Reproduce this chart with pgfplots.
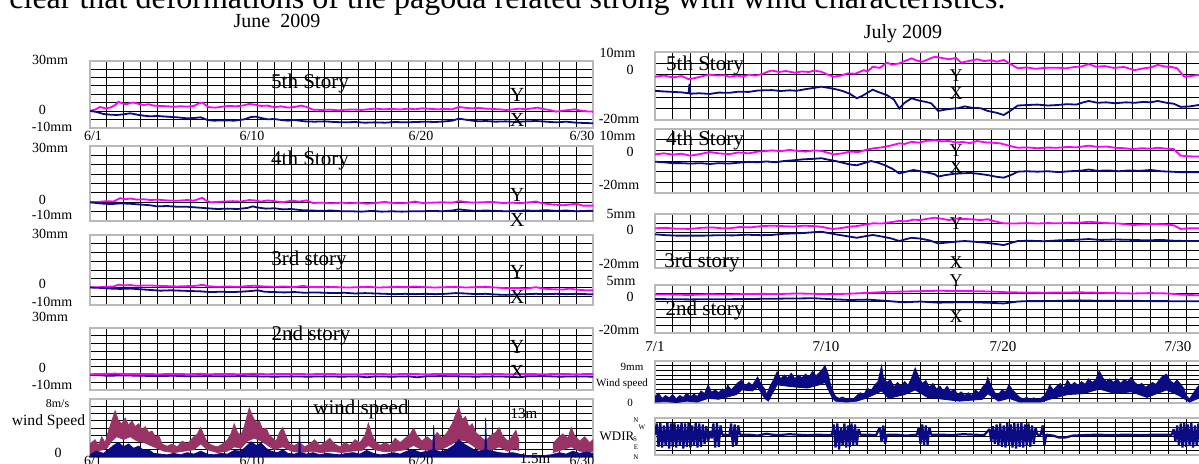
\documentclass[border=0pt]{standalone}
\usepackage{pgfplots}
\pgfplotsset{compat=1.18}
\usepgfplotslibrary{fillbetween}
\usepackage{fontspec}
\setmainfont{Liberation Serif}
\definecolor{mag}{RGB}{255,0,255}
\definecolor{nav}{RGB}{10,10,130}
\definecolor{mar}{RGB}{153,51,102}
\newcommand{\fs}[1]{\fontsize{#1}{#1}\selectfont}
\pgfplotsset{
 panel/.style={scale only axis, anchor=south west, axis line style={gray!55, line width=0.9pt},
   grid=major, grid style={black, line width=0.45pt}, major tick length=0pt,
   xticklabels={}, yticklabels={}, xmin=0, xtick={0,...,31}, clip=true},
 Lp/.style={panel, width=251.5pt, xmax=30, ymin=-10, ymax=30, ytick={-10,-5,...,30}},
 Rp/.style={panel, width=274.35pt, xmax=31},
 Ra/.style={Rp, ymin=-20, ymax=10, ytick={-20,-15,...,10}},
 Rb/.style={Rp, ymin=-20, ymax=5, ytick={-20,-15.8333,-11.6667,-7.5,-3.3333,0.8333,5}},
 ly/.style={mag, line width=0.9pt},
 lx/.style={nav, line width=0.9pt},
}
\begin{document}
\begin{tikzpicture}
% ---------------- June: 5th story
\begin{axis}[Lp, at={(45pt,-63.85pt)}, height=33.5pt]
\addplot[ly] coordinates {(0,0) (0.3,0.8) (0.6,2.4) (0.9,1.6) (1.2,2.0) (1.5,3.5) (1.7,5.5) (1.9,4.6) (2.2,4.0) (2.4,4.8) (2.6,5.0) (2.9,4.2) (3.2,3.6) (3.5,4.0) (3.8,3.2) (4.2,3.0) (4.6,2.8) (5.0,2.5) (5.4,2.8) (5.8,2.6) (6.2,3.0) (6.5,4.6) (6.7,5.0) (6.9,3.5) (7.1,2.2) (7.5,2.0) (7.9,2.6) (8.3,3.0) (8.7,2.8) (9.1,3.2) (9.5,4.2) (9.8,3.8) (10.2,3.0) (10.6,3.2) (11.0,2.2) (11.4,2.8) (11.8,2.0) (12.2,2.4) (12.6,3.2) (12.9,2.4) (13.3,0.8) (13.8,0.6) (14.3,0.8) (14.8,0.4) (15.2,0.7) (15.7,0.9) (16.2,0.6) (16.6,1.0) (17.0,1.4) (17.5,1.0) (18.0,1.2) (18.5,0.9) (19.0,1.4) (19.4,1.0) (19.8,1.6) (20.2,1.3) (20.7,1.0) (21.2,1.2) (21.6,1.0) (22.0,2.4) (22.3,2.0) (22.7,1.6) (23.2,1.8) (23.6,1.4) (24.0,1.2) (24.4,1.0) (24.8,0.6) (25.2,0.9) (25.6,1.4) (26.0,1.0) (26.4,1.6) (26.7,2.0) (27.0,1.2) (27.4,0.6) (27.8,-0.4) (28.2,0.2) (28.6,0.6) (28.9,1.0) (29.3,0.2) (29.7,-0.3) (30,-0.4)};
\addplot[lx] coordinates {(0,0) (0.4,-0.6) (0.8,-1.8) (1.2,-2.2) (1.6,-2.4) (2.0,-2.0) (2.4,-1.4) (2.8,-2.2) (3.2,-2.8) (3.6,-3.2) (4.0,-3.0) (4.6,-3.4) (5.2,-3.8) (5.8,-4.4) (6.2,-4.2) (6.6,-3.8) (7.0,-5.4) (7.4,-5.8) (8.0,-5.6) (8.6,-5.8) (9.2,-5.0) (9.6,-3.6) (9.9,-3.4) (10.2,-4.2) (10.6,-5.0) (11.0,-4.8) (11.4,-5.4) (11.8,-5.8) (12.2,-5.4) (12.8,-6.2) (13.4,-6.4) (14.0,-6.2) (14.6,-6.6) (15.2,-6.8) (15.8,-6.6) (16.4,-7.0) (17.0,-6.8) (17.6,-7.0) (18.2,-6.6) (18.8,-6.8) (19.4,-6.6) (20.0,-6.4) (20.6,-6.6) (21.2,-6.2) (21.6,-5.8) (22.0,-4.6) (22.4,-5.2) (22.8,-5.8) (23.2,-6.2) (23.6,-6.0) (24.2,-6.4) (24.8,-6.2) (25.4,-6.6) (26.0,-6.2) (26.6,-6.0) (27.2,-6.4) (27.8,-6.8) (28.4,-6.4) (29.0,-7.0) (29.6,-7.2) (30,-7.4)};
\end{axis}
% ---------------- June: 4th story
\begin{axis}[Lp, at={(45pt,-110.5pt)}, height=37.5pt]
\addplot[ly] coordinates {(0,0) (0.5,0.2) (1.0,0.6) (1.4,0.4) (1.8,2.2) (2.1,1.6) (2.4,2.0) (2.8,1.4) (3.2,1.6) (3.6,1.2) (4.0,1.4) (4.6,1.0) (5.2,0.8) (5.8,1.2) (6.2,0.9) (6.5,1.8) (6.7,2.4) (6.9,1.0) (7.2,0.0) (7.6,0.2) (8.0,0.4) (8.5,0.6) (9.0,0.4) (9.5,1.2) (9.8,1.0) (10.2,0.4) (10.6,1.0) (11.0,0.6) (11.5,0.0) (12.0,0.8) (12.5,0.4) (12.9,1.0) (13.3,-0.4) (13.8,-0.2) (14.4,-0.6) (15.0,-0.2) (15.5,-0.6) (16.0,-0.2) (16.5,-0.8) (17.0,-0.4) (17.6,0.2) (18.0,-0.4) (18.6,-0.6) (19.0,-0.2) (19.4,0.4) (19.8,-0.4) (20.4,-0.2) (21.0,0.0) (21.6,-0.2) (22.0,0.6) (22.4,0.2) (22.8,-0.2) (23.4,0.0) (24.0,0.2) (24.6,-0.4) (25.2,-0.2) (25.6,-0.6) (26.2,0.0) (26.6,0.4) (27.0,-0.6) (27.6,-1.2) (28.2,-1.6) (28.6,-1.2) (29.0,-0.8) (29.4,-1.8) (30,-1.8)};
\addplot[lx] coordinates {(0,0) (0.6,-0.6) (1.2,-1.0) (1.8,-0.6) (2.4,-0.8) (3.0,-1.2) (3.6,-1.6) (4.0,-2.2) (4.6,-2.0) (5.2,-2.4) (5.8,-2.4) (6.4,-2.8) (7.0,-3.2) (7.6,-3.6) (8.2,-3.4) (8.8,-3.6) (9.4,-3.0) (9.7,-2.2) (10.0,-2.8) (10.5,-3.4) (11.0,-3.2) (11.5,-3.8) (12.0,-3.6) (12.6,-4.2) (13.2,-4.4) (13.8,-4.6) (14.4,-4.4) (15.0,-4.8) (15.6,-4.8) (16.2,-5.0) (16.8,-4.6) (17.4,-5.0) (18.0,-4.8) (18.6,-5.0) (19.2,-4.8) (19.8,-4.8) (20.4,-4.6) (21.0,-4.8) (21.6,-4.4) (22.0,-3.8) (22.4,-4.2) (23.0,-4.6) (23.6,-4.4) (24.2,-4.6) (24.8,-4.8) (25.4,-4.6) (26.0,-4.4) (26.6,-4.6) (27.2,-4.2) (27.8,-4.6) (28.4,-4.4) (29.0,-4.8) (29.6,-4.6) (30,-4.6)};
\end{axis}
% ---------------- June: 3rd story
\begin{axis}[Lp, at={(45pt,-152.5pt)}, height=35pt]
\addplot[ly] coordinates {(0,0.2) (0.6,0.2) (1.0,0.4) (1.4,0.6) (1.7,1.6) (2.0,1.2) (2.4,1.4) (2.8,1.0) (3.4,1.2) (4.0,1.0) (4.6,0.8) (5.2,0.6) (5.8,0.8) (6.4,1.0) (6.7,1.6) (7.0,0.8) (7.6,0.4) (8.2,0.6) (8.8,0.4) (9.4,0.8) (9.8,1.0) (10.4,0.6) (11.0,0.4) (11.6,0.6) (12.2,0.2) (12.7,1.0) (13.0,0.4) (13.6,0.2) (14.2,0.4) (14.8,0.2) (15.4,0.0) (16.0,0.2) (16.6,0.4) (17.2,0.0) (17.8,0.2) (18.4,0.4) (18.8,0.2) (19.4,0.6) (20.0,0.2) (20.6,0.0) (21.2,0.2) (21.8,0.4) (22.4,0.0) (23.0,0.2) (23.6,0.4) (24.2,0.0) (24.8,-0.4) (25.4,-0.2) (26.0,-0.6) (26.6,0.2) (27.0,-0.6) (27.6,-1.0) (28.2,-1.2) (28.6,-0.6) (29.0,-1.2) (29.6,-1.6) (30,-1.6)};
\addplot[lx] coordinates {(0,0) (0.6,-0.2) (1.2,-0.6) (1.8,-0.8) (2.4,-0.6) (3.0,-1.0) (3.6,-1.4) (4.2,-1.8) (4.8,-1.6) (5.4,-1.8) (6.0,-2.0) (6.6,-2.2) (7.2,-2.6) (7.8,-2.4) (8.4,-2.6) (9.0,-2.4) (9.6,-2.0) (10.0,-1.6) (10.4,-2.4) (11.0,-2.6) (11.6,-2.8) (12.2,-2.6) (12.8,-3.0) (13.4,-2.8) (14.0,-3.0) (14.6,-3.2) (15.2,-3.0) (15.8,-3.4) (16.4,-3.2) (17.0,-3.4) (17.6,-3.6) (18.2,-3.8) (18.8,-3.6) (19.4,-3.8) (20.0,-3.6) (20.6,-3.8) (21.2,-3.6) (21.8,-3.2) (22.4,-3.4) (23.0,-3.8) (23.6,-3.6) (24.2,-4.0) (24.8,-4.2) (25.4,-4.0) (26.0,-3.8) (26.6,-3.6) (27.2,-3.8) (27.8,-3.6) (28.4,-3.8) (29.0,-3.6) (29.6,-3.8) (30,-3.8)};
\end{axis}
% ---------------- June: 2nd story
\begin{axis}[Lp, at={(45pt,-195pt)}, height=31pt]
\addplot[lx] coordinates {(0,-0.2) (0.5,-0.4) (1,-0.8) (2,-0.6) (3,-0.8) (4,-1.0) (5,-0.8) (6,-1.2) (7,-1.0) (8,-1.2) (9,-1.0) (10,-1.2) (11,-1.4) (12,-1.2) (13,-1.4) (14,-1.2) (15,-1.4) (16,-1.2) (16.5,-1.8) (17,-1.2) (18,-1.4) (19,-1.2) (19.5,-1.8) (20,-1.2) (21,-1.0) (22,-1.2) (23,-1.4) (24,-1.2) (25,-1.4) (25.6,-1.8) (26,-1.2) (27,-1.0) (28,-1.4) (29,-1.2) (30,-1.4)};
\addplot[ly] coordinates {(0,0.2) (1,0.4) (1.5,0.6) (2,0.3) (3,0.4) (4,0.2) (5,0.3) (6,0.2) (6.5,0.5) (7,0.2) (8,0.3) (9,0.2) (9.7,0.5) (10.5,0.2) (12,0.4) (13,0.2) (14,0.3) (15,0.2) (16,0.2) (17,0.3) (18,0.2) (19,0.3) (20,0.2) (21,0.3) (22,0.4) (23,0.2) (24,0.3) (25,0.2) (26,0.3) (27,0.2) (28,0.3) (29,0.2) (30,0.3)};
\end{axis}
% ---------------- June: wind speed
\begin{axis}[Lp, at={(45pt,-228.5pt)}, height=29pt, ymin=0, ymax=8, ytick={0,...,8}]
\addplot[name path=mu1, draw=mar, line width=0.3pt] coordinates {(0,1.8) (0.3,2.4) (0.5,1.6) (0.7,2.8) (0.9,2.0) (1.1,3.6) (1.3,5.0) (1.5,6.4) (1.7,5.0) (1.9,4.6) (2.1,5.4) (2.3,4.4) (2.5,5.0) (2.7,4.2) (2.9,4.6) (3.1,3.8) (3.3,4.2) (3.5,3.4) (3.7,3.6) (3.9,2.8) (4.1,3.0) (4.3,1.8) (4.6,1.5) (4.9,1.8) (5.2,1.4) (5.5,2.2) (5.8,1.8) (6.1,2.6) (6.4,3.2) (6.6,4.1) (6.8,3.0) (7.0,2.0) (7.3,1.6) (7.6,1.4) (7.9,1.8) (8.2,2.4) (8.4,3.2) (8.6,4.6) (8.8,3.4) (9.0,3.0) (9.2,4.2) (9.4,6.0) (9.5,6.8) (9.7,5.6) (9.9,4.8) (10.1,5.0) (10.3,3.8) (10.5,4.0) (10.7,3.0) (10.9,2.6) (11.1,2.2) (11.3,3.4) (11.5,4.1) (11.7,2.8) (11.9,1.8) (12.2,1.6) (12.5,2.0) (12.8,1.4) (13.1,1.8) (13.4,2.4) (13.7,1.6) (14.0,2.0) (14.3,2.6) (14.6,1.8) (14.9,1.4) (15.2,2.0) (15.5,1.6) (15.8,2.4) (16.1,2.0) (16.4,3.0) (16.6,4.7) (16.8,3.2) (17.0,2.2) (17.3,1.6) (17.6,2.0) (17.9,1.6) (18.2,2.6) (18.5,2.0) (18.8,2.6) (19.1,3.2) (19.3,4.0) (19.5,3.0) (19.8,2.2) (20.1,2.8) (20.4,2.2) (20.7,3.4) (21.0,2.6) (21.3,3.4) (21.6,4.6) (21.8,5.8) (22.0,6.9) (22.2,5.2) (22.4,5.6) (22.6,4.2) (22.8,4.6) (23.0,3.4) (23.3,2.8) (23.6,2.2) (23.9,3.0) (24.2,3.4) (24.4,4.1) (24.6,3.0) (24.9,2.2) (25.1,2.6) (25.4,3.7) (25.6,2.2)};
\addplot[name path=ml1, draw=mar, line width=0.3pt] coordinates {(0,0.6) (0.5,0.8) (1.0,1.2) (1.3,2.2) (1.6,2.8) (2.0,2.4) (2.4,2.8) (2.8,2.2) (3.2,2.0) (3.6,1.6) (4.0,1.2) (4.4,0.8) (5.0,0.6) (5.6,0.8) (6.2,1.0) (6.6,1.8) (7.0,1.0) (7.6,0.6) (8.2,0.8) (8.6,1.4) (9.0,1.2) (9.4,2.2) (9.8,2.6) (10.2,2.2) (10.6,1.6) (11.0,1.0) (11.5,1.4) (12.0,0.8) (12.6,0.6) (13.2,0.8) (13.8,0.6) (14.4,0.8) (15.0,0.6) (15.6,0.8) (16.2,0.9) (16.6,1.6) (17.0,1.0) (17.6,0.7) (18.2,0.8) (18.8,1.0) (19.3,1.6) (19.8,1.0) (20.4,0.9) (21.0,1.1) (21.6,1.8) (22.0,2.4) (22.4,2.2) (22.8,1.6) (23.2,1.0) (23.8,0.8) (24.4,1.4) (24.9,0.8) (25.4,1.2) (25.6,0.8)};
\addplot[mar] fill between[of=mu1 and ml1];
\addplot[name path=mu2, draw=mar, line width=0.3pt] coordinates {(27.6,1.8) (27.9,2.6) (28.2,3.2) (28.5,2.6) (28.7,4.1) (28.9,3.0) (29.2,2.2) (29.5,2.8) (29.8,2.0) (30,2.4)};
\addplot[name path=ml2, draw=mar, line width=0.3pt] coordinates {(27.6,0.6) (28.2,1.0) (28.7,1.4) (29.2,0.8) (29.8,0.7) (30,0.8)};
\addplot[mar] fill between[of=mu2 and ml2];
\addplot[fill=nav, draw=nav, line width=0.4pt] coordinates {(0,0.4) (0.4,0.8) (0.8,0.5) (1.1,1.0) (1.4,1.6) (1.7,2.0) (2.0,1.4) (2.3,1.8) (2.6,1.2) (2.9,1.5) (3.2,0.9) (3.5,1.0) (3.8,0.5) (4.2,0.4) (4.6,0.3) (5.0,0.5) (5.4,0.3) (5.8,0.6) (6.2,0.4) (6.6,0.8) (7.0,0.4) (7.4,0.3) (7.8,0.5) (8.2,0.4) (8.6,0.9) (9.0,0.8) (9.3,1.4) (9.6,2.1) (9.9,1.6) (10.2,1.9) (10.5,1.2) (10.8,0.8) (11.2,0.6) (11.5,1.0) (11.8,0.5) (12.2,0.4) (12.45,0.6) (12.5,3.9) (12.55,0.6) (12.9,0.4) (13.3,0.6) (13.7,0.3) (14.1,0.5) (14.5,0.4) (14.9,0.3) (15.3,0.5) (15.7,0.6) (16.1,0.4) (16.5,0.9) (16.9,0.5) (17.3,0.3) (17.7,0.4) (18.1,0.6) (18.5,0.4) (18.9,0.8) (19.3,1.0) (19.7,0.6) (20.1,0.8) (20.45,1.0) (20.5,4.4) (20.55,1.0) (20.9,0.7) (21.3,1.0) (21.7,1.6) (22.0,2.4) (22.3,1.8) (22.6,1.4) (22.9,1.0) (23.2,0.8) (23.55,1.0) (23.6,5.4) (23.65,1.0) (24.0,0.8) (24.4,0.6) (24.8,0.5) (25.2,0.6) (25.6,0.4) (26.0,0.2) (26.5,0.2) (27.0,0.2) (27.5,0.3) (28.0,0.6) (28.4,0.4) (28.8,0.8) (29.2,0.5) (29.6,0.7) (30,0.5)} \closedcycle;
\end{axis}
% ================= July: 5th story
\begin{axis}[Ra, at={(327.5pt,-60pt)}, height=34pt]
\addplot[ly] coordinates {(0,-0.9) (0.5,-0.4) (1.0,-1.2) (1.5,-0.6) (1.9,-2.0) (2.3,-1.4) (2.7,-0.6) (3.1,0.0) (3.5,-0.4) (3.9,-0.2) (4.2,-0.9) (4.6,-0.4) (5.0,-0.8) (5.3,0.0) (5.7,-0.4) (6.1,0.4) (6.4,1.4) (6.6,1.8) (7.0,1.2) (7.4,1.6) (7.9,0.9) (8.3,1.4) (8.7,1.2) (9.0,1.8) (9.4,1.3) (9.7,0.2) (10.1,-0.9) (10.5,-0.4) (10.9,0.6) (11.3,0.4) (11.8,2.0) (12.0,1.4) (12.3,3.5) (12.7,3.0) (13.1,5.3) (13.4,4.4) (13.8,5.0) (14.1,6.0) (14.5,7.2) (14.8,6.2) (15.1,5.7) (15.5,7.0) (15.8,7.9) (16.2,7.4) (16.6,6.8) (17.0,7.4) (17.3,5.3) (17.7,6.0) (18.2,6.8) (18.6,6.0) (19.0,6.4) (19.3,5.7) (19.7,6.5) (20.1,4.6) (20.5,2.8) (21.0,3.2) (21.5,2.6) (22.0,3.0) (22.7,3.1) (23.2,2.8) (23.7,3.4) (24.1,3.6) (24.5,4.7) (24.9,3.5) (25.4,3.8) (25.9,3.0) (26.5,3.4) (27.1,2.0) (27.6,2.8) (28.0,3.2) (28.4,4.3) (28.8,3.6) (29.2,3.4) (29.5,2.8) (29.9,-0.9) (30.3,-0.6) (30.7,-0.1) (31,-0.2)};
\addplot[lx] coordinates {(0,-7.1) (0.5,-7.4) (1.0,-7.6) (1.5,-7.8) (1.9,-8.2) (1.95,-4.0) (2.0,-8.4) (2.5,-8.2) (3.1,-8.5) (3.6,-7.9) (4.2,-8.0) (4.7,-7.5) (5.3,-7.6) (5.8,-7.0) (6.2,-6.9) (6.6,-6.8) (7.1,-7.2) (7.6,-6.9) (8.0,-7.1) (8.5,-6.4) (9.0,-5.8) (9.4,-5.3) (9.8,-5.8) (10.2,-6.4) (10.6,-7.2) (11.0,-8.4) (11.4,-10.4) (11.7,-9.4) (12.0,-8.0) (12.3,-6.6) (12.6,-7.6) (13.1,-9.0) (13.5,-11.0) (13.8,-14.9) (14.1,-12.4) (14.5,-10.4) (14.9,-11.4) (15.3,-12.0) (15.6,-12.6) (16.0,-16.0) (16.4,-15.4) (16.8,-15.0) (17.1,-14.8) (17.5,-14.0) (17.9,-14.6) (18.4,-14.8) (18.8,-16.0) (19.3,-16.8) (19.7,-17.8) (20.1,-15.8) (20.5,-13.6) (21.0,-13.4) (21.6,-13.2) (22.2,-13.6) (22.7,-13.4) (23.3,-13.0) (23.8,-13.2) (24.2,-12.2) (24.5,-11.6) (25.0,-12.4) (25.5,-12.2) (26.0,-12.6) (26.6,-12.2) (27.1,-12.4) (27.6,-12.0) (28.0,-12.2) (28.4,-11.6) (28.9,-12.4) (29.3,-12.8) (29.7,-14.2) (30.2,-14.0) (30.7,-13.4) (31,-13.4)};
\end{axis}
% ================= July: 4th story
\begin{axis}[Ra, at={(327.5pt,-96.5pt)}, height=32pt]
\addplot[ly] coordinates {(0,-1.9) (0.5,-1.4) (1.0,-2.0) (1.5,-1.6) (2.0,-2.5) (2.5,-1.8) (3.1,-0.8) (3.6,-1.4) (4.2,-1.8) (4.7,-1.0) (5.3,-1.4) (5.8,-0.6) (6.2,-0.4) (6.6,0.0) (7.1,-0.4) (7.6,0.2) (8.0,-0.2) (8.5,-0.6) (9.0,0.0) (9.4,-0.3) (9.8,-1.2) (10.1,-1.9) (10.6,-1.4) (11.0,-0.6) (11.5,-0.8) (11.9,0.2) (12.3,0.9) (12.8,1.4) (13.3,2.2) (13.8,3.3) (14.1,3.0) (14.5,4.0) (14.9,3.6) (15.3,4.4) (15.8,4.8) (16.2,4.2) (16.6,4.4) (17.0,3.7) (17.4,3.9) (17.8,3.4) (18.2,4.4) (18.6,3.8) (19.0,3.6) (19.5,3.3) (20.0,2.2) (20.5,1.2) (21.0,1.4) (21.6,1.0) (22.2,1.3) (22.7,1.2) (23.3,1.6) (23.8,1.4) (24.5,2.2) (25.0,1.6) (25.5,1.8) (26.0,1.2) (26.5,1.0) (27.0,0.6) (27.5,1.0) (28.0,0.8) (28.4,1.2) (28.9,0.8) (29.3,0.6) (29.7,-2.5) (30.2,-2.8) (31,-3.0)};
\addplot[lx] coordinates {(0,-5.3) (0.5,-5.6) (1.0,-6.0) (1.5,-6.0) (2.0,-6.2) (2.6,-6.0) (3.1,-6.4) (3.6,-6.0) (4.2,-6.2) (4.7,-5.8) (5.3,-5.4) (5.8,-5.6) (6.3,-5.2) (6.8,-5.6) (7.3,-5.0) (7.9,-4.6) (8.4,-4.2) (8.9,-4.0) (9.4,-3.7) (9.8,-4.4) (10.2,-5.0) (10.6,-5.8) (11.0,-6.6) (11.4,-7.0) (11.8,-6.0) (12.2,-5.0) (12.6,-5.8) (13.0,-7.0) (13.4,-8.6) (13.8,-10.8) (14.2,-10.0) (14.6,-9.2) (15.0,-9.8) (15.5,-10.6) (15.8,-11.2) (16.0,-12.3) (16.4,-11.6) (16.9,-11.0) (17.3,-10.8) (17.8,-10.6) (18.3,-11.0) (18.8,-11.6) (19.3,-12.4) (19.7,-12.8) (20.1,-11.6) (20.5,-10.0) (21.0,-9.8) (21.6,-10.0) (22.2,-9.8) (22.8,-10.2) (23.4,-9.8) (24.0,-9.6) (24.5,-9.0) (25.0,-9.6) (25.6,-9.4) (26.2,-9.8) (26.8,-9.4) (27.4,-9.6) (28.0,-9.2) (28.6,-9.8) (29.2,-10.0) (29.8,-10.3) (30.4,-10.2) (31,-10.3)};
\end{axis}
% ================= July: 3rd story
\begin{axis}[Rb, at={(327.5pt,-134pt)}, height=27pt]
\addplot[ly] coordinates {(0,-1.6) (0.6,-1.4) (1.2,-1.8) (2.0,-1.9) (2.6,-1.4) (3.2,-1.2) (3.8,-1.6) (4.2,-1.6) (4.8,-1.0) (5.4,-1.2) (6.0,-0.6) (6.6,-0.4) (7.2,-0.6) (7.8,-0.8) (8.4,-0.4) (9.0,-0.6) (9.4,-0.9) (9.8,-1.6) (10.1,-1.9) (10.6,-1.4) (11.0,-0.8) (11.4,-0.6) (11.8,0.0) (12.3,0.7) (12.8,0.6) (13.3,1.2) (13.8,1.8) (14.2,1.6) (14.6,2.4) (15.0,2.2) (15.4,2.8) (15.8,3.3) (16.2,2.8) (16.6,2.2) (17.0,2.8) (17.3,2.7) (17.8,2.6) (18.4,2.2) (18.8,2.6) (19.2,1.6) (19.7,0.7) (20.3,0.6) (21.0,0.8) (21.6,0.6) (22.2,0.8) (22.7,0.7) (23.4,0.9) (24.0,1.0) (24.5,1.4) (24.9,1.2) (25.5,0.8) (26.2,0.6) (27.0,-0.1) (27.6,0.2) (28.2,0.4) (28.8,0.2) (29.3,-0.2) (29.7,-1.9) (30.2,-1.6) (31,-1.6)};
\addplot[lx] coordinates {(0,-4.4) (0.6,-4.8) (1.2,-5.0) (2.0,-5.0) (2.8,-5.0) (3.6,-4.8) (4.4,-4.9) (5.2,-4.6) (6.0,-4.8) (6.6,-4.7) (7.2,-4.2) (7.8,-4.0) (8.4,-3.8) (9.0,-3.4) (9.4,-3.2) (9.8,-3.8) (10.2,-4.4) (10.8,-5.2) (11.4,-6.0) (11.8,-5.4) (12.3,-4.7) (12.8,-5.4) (13.3,-6.2) (13.8,-7.5) (14.2,-6.6) (14.5,-6.0) (15.0,-6.4) (15.5,-7.2) (16.0,-8.6) (16.5,-8.2) (17.0,-7.8) (17.5,-7.5) (18.0,-7.8) (18.6,-8.2) (19.2,-8.8) (19.7,-9.4) (20.1,-8.4) (20.5,-7.5) (21.2,-7.4) (22.0,-7.6) (22.8,-7.2) (23.6,-7.0) (24.5,-6.6) (25.2,-7.0) (26.0,-6.8) (27.0,-7.0) (27.8,-7.2) (28.6,-7.0) (29.4,-7.4) (30.2,-7.5) (31,-7.5)};
\end{axis}
% ================= July: 2nd story
\begin{axis}[Rb, at={(327.5pt,-166.5pt)}, height=24pt]
\addplot[ly] coordinates {(0,0.1) (1,0.0) (2,-0.2) (3,0.2) (4,0.0) (5,0.3) (6,0.4) (7,0.3) (8,0.6) (9,0.4) (10,0.2) (11,0.5) (12,0.9) (13,1.4) (14,1.6) (15,1.8) (16,2.0) (17,1.9) (18,1.8) (19,1.6) (20,1.2) (21,1.1) (22,1.0) (23,1.1) (24,1.2) (25,1.0) (26,0.8) (27,0.6) (28,0.8) (29,0.6) (29.7,0.0) (30.5,-0.3) (31,-0.3)};
\addplot[lx] coordinates {(0,-2.3) (1,-2.4) (2,-2.5) (3,-2.4) (4,-2.4) (5,-2.3) (6,-2.2) (7,-2.1) (8,-2.0) (9,-1.9) (10,-2.4) (11,-2.8) (12,-2.6) (13,-3.2) (14,-4.0) (15,-3.6) (16,-4.2) (17,-4.0) (18,-4.0) (19,-4.3) (19.7,-4.6) (20.5,-3.6) (21,-3.4) (22,-3.4) (23,-3.2) (24,-3.0) (25,-3.2) (26,-3.2) (27,-3.2) (28,-3.4) (29,-3.4) (30,-3.5) (31,-3.5)};
\end{axis}
% ================= July: wind speed
\begin{axis}[Rp, at={(327.5pt,-201.5pt)}, height=21pt, ymin=0, ymax=9, ytick={0,...,9}]
\addplot[name path=wu, draw=nav, line width=0.4pt] coordinates {(0,1.4) (0.2,2.1) (0.4,1.0) (0.6,1.6) (0.8,1.1) (1.0,1.8) (1.2,0.9) (1.4,1.6) (1.6,1.2) (1.8,2.1) (2.0,1.3) (2.2,1.9) (2.4,1.4) (2.6,2.6) (2.8,2.0) (3.0,3.9) (3.2,2.3) (3.4,2.8) (3.6,2.2) (3.8,3.0) (4.0,2.4) (4.1,3.9) (4.3,2.8) (4.5,3.6) (4.7,4.4) (4.9,4.9) (5.1,3.6) (5.3,4.4) (5.5,3.8) (5.7,5.0) (5.8,5.6) (6.0,4.0) (6.2,3.0) (6.3,1.8) (6.5,3.6) (6.7,5.0) (6.9,6.7) (7.1,5.2) (7.3,6.0) (7.5,5.4) (7.7,6.4) (7.9,5.2) (8.1,6.0) (8.3,5.4) (8.5,6.2) (8.7,5.6) (8.9,6.8) (9.1,5.8) (9.3,6.6) (9.5,7.4) (9.6,8.1) (9.8,6.0) (9.9,4.2) (10.0,3.0) (10.2,1.4) (10.4,1.0) (10.6,1.3) (10.8,0.8) (11.0,1.1) (11.2,0.8) (11.4,1.6) (11.6,2.2) (11.8,1.8) (12.0,3.2) (12.2,2.6) (12.4,3.8) (12.6,4.6) (12.8,8.0) (12.9,5.6) (13.1,4.4) (13.3,5.0) (13.5,3.4) (13.7,4.4) (13.9,3.6) (14.1,4.6) (14.3,3.8) (14.5,5.4) (14.7,7.5) (14.9,5.6) (15.1,4.2) (15.3,4.8) (15.5,3.4) (15.7,4.2) (15.9,3.0) (16.1,3.6) (16.3,2.6) (16.5,3.6) (16.7,2.4) (16.9,3.0) (17.1,1.8) (17.3,2.4) (17.5,1.6) (17.7,2.2) (17.9,1.6) (18.1,2.8) (18.3,2.2) (18.5,3.4) (18.7,4.2) (18.8,5.5) (19.0,3.6) (19.2,2.2) (19.4,1.8) (19.6,2.8) (19.8,2.4) (20.0,3.9) (20.2,2.8) (20.4,2.0) (20.6,1.2) (20.8,0.9) (21.0,1.2) (21.2,0.8) (21.4,1.1) (21.6,0.8) (21.8,1.0) (22.0,1.6) (22.2,3.0) (22.3,3.9) (22.5,2.8) (22.7,3.6) (22.9,4.2) (23.1,3.2) (23.3,4.9) (23.5,3.8) (23.7,4.4) (23.9,3.8) (24.1,4.6) (24.3,4.0) (24.5,5.2) (24.7,4.4) (24.9,5.0) (25.1,6.9) (25.3,5.4) (25.5,4.6) (25.7,5.2) (25.9,4.4) (26.1,5.2) (26.3,4.2) (26.5,5.0) (26.7,4.6) (26.9,5.5) (27.1,4.4) (27.3,3.8) (27.5,4.2) (27.7,3.4) (27.9,3.8) (28.1,4.4) (28.3,4.0) (28.5,5.0) (28.7,5.8) (28.9,6.2) (29.1,4.8) (29.3,4.2) (29.5,4.9) (29.7,4.0) (29.9,3.0) (30.0,1.6) (30.2,0.9) (30.4,2.0) (30.6,3.2) (30.8,4.0) (31,3.2)};
\addplot[name path=wl, draw=nav, line width=0.4pt] coordinates {(0,0.2) (0.6,0.3) (1.2,0.1) (1.8,0.4) (2.4,0.2) (3.0,1.0) (3.6,0.8) (4.1,1.3) (4.6,1.8) (4.9,2.8) (5.5,2.6) (5.8,3.4) (6.2,1.0) (6.4,0.4) (6.9,3.9) (7.5,3.6) (8.0,3.4) (8.6,3.2) (9.2,3.8) (9.6,4.4) (10.0,1.2) (10.2,0.4) (10.8,0.2) (11.4,0.4) (11.9,1.0) (12.5,2.0) (12.8,2.6) (13.2,1.0) (14.1,1.8) (14.7,2.8) (15.4,1.2) (16.3,0.8) (17.2,0.4) (18.5,0.8) (18.8,2.0) (19.4,0.4) (20.0,1.0) (20.6,0.2) (21.8,0.2) (22.3,0.8) (23.3,1.8) (24.2,2.0) (25.1,3.0) (26.0,2.0) (26.9,2.4) (27.8,1.2) (28.9,2.8) (29.6,1.6) (30.2,0.2) (30.7,1.0) (31,1.0)};
\addplot[nav] fill between[of=wu and wl];
\end{axis}
% ================= July: wind direction
\begin{axis}[Rp, at={(327.5pt,-227.5pt)}, height=18.5pt, ymin=0, ymax=4, ytick={0,0.5,...,4}]
\addplot[nav, line width=1.1pt, line join=bevel] coordinates {(0,2.2) (0.1,3.4) (0.2,0.9) (0.3,3.5) (0.4,0.8) (0.5,3.2) (0.6,1.0) (0.7,3.5) (0.8,0.7) (0.9,3.4) (1.0,0.9) (1.1,3.5) (1.2,0.8) (1.3,3.3) (1.4,1.1) (1.5,3.5) (1.6,0.7) (1.7,3.4) (1.8,0.9) (1.9,3.5) (2.0,0.8) (2.1,3.2) (2.2,1.0) (2.3,3.5) (2.4,0.8) (2.5,3.4) (2.6,0.9) (2.7,3.3) (2.8,1.2) (2.9,3.1) (3.0,1.4) (3.1,2.6) (3.2,1.8) (3.3,3.4) (3.4,0.8) (3.5,3.5) (3.6,0.9) (3.7,3.2) (3.8,2.2) (4.0,2.2) (4.2,2.1) (4.3,3.4) (4.4,0.9) (4.5,3.3) (4.6,1.0) (4.7,3.2) (4.8,2.2) (5.3,2.2) (5.8,2.1) (6.3,2.3) (6.6,2.2) (7.0,2.15) (7.6,2.25) (8.0,2.2) (8.6,2.15) (9.2,2.2) (9.8,2.15) (10.0,2.2) (10.1,3.3) (10.2,0.8) (10.3,3.4) (10.4,0.6) (10.5,3.0) (10.6,1.0) (10.7,3.4) (10.8,0.8) (10.9,3.2) (11.0,0.9) (11.1,3.4) (11.2,1.1) (11.3,3.3) (11.4,1.0) (11.5,2.8) (11.6,2.2) (12.0,2.2) (12.5,2.15) (12.7,3.0) (12.8,1.4) (12.9,3.2) (13.0,1.2) (13.1,2.2) (13.6,2.2) (14.2,2.1) (14.8,2.2) (14.9,3.0) (15.0,1.2) (15.1,3.3) (15.2,1.0) (15.3,3.2) (15.4,1.1) (15.5,3.0) (15.6,2.2) (16.2,2.2) (16.8,2.15) (17.4,2.25) (18.0,2.2) (18.6,2.15) (18.9,2.8) (19.0,1.4) (19.1,3.1) (19.2,1.2) (19.3,3.3) (19.4,1.0) (19.5,3.4) (19.6,0.9) (19.7,3.2) (19.8,0.8) (19.9,3.5) (20.0,1.0) (20.1,3.3) (20.2,0.8) (20.3,3.5) (20.4,0.7) (20.5,3.4) (20.6,0.9) (20.7,3.5) (20.8,0.8) (20.9,3.3) (21.0,1.0) (21.1,3.4) (21.2,0.9) (21.3,3.2) (21.4,1.2) (21.5,3.0) (21.6,2.2) (21.8,2.2) (21.9,3.2) (22.0,1.0) (22.1,2.2) (22.5,2.1) (22.8,1.9) (23.2,1.9) (23.6,2.1) (24.2,2.15) (25.0,2.2) (25.8,2.15) (26.6,2.2) (27.4,2.15) (28.2,2.2) (28.8,2.2) (29.2,2.2) (29.3,2.8) (29.4,1.4) (29.5,3.2) (29.6,1.0) (29.7,3.4) (29.8,0.8) (29.9,3.5) (30.0,0.9) (30.1,3.3) (30.2,1.0) (30.3,3.5) (30.4,0.8) (30.5,3.2) (30.6,1.1) (30.7,3.4) (30.8,0.9) (30.9,3.3) (31.0,1.0)};
\end{axis}
% ---------------- texts
\begin{scope}[x=0.5pt, y=-0.5pt]
\node[anchor=base west, inner sep=0pt] at (9,8) {\fs{16}clear that deformations of the pagoda related strong with wind characteristics.};
\node[anchor=base, inner sep=0pt] at (277,27.5) {\fs{10}June\ \ 2009};
\node[anchor=base, inner sep=0pt] at (903,38) {\fs{10}July 2009};
\begin{scope}[every node/.style={inner sep=0pt, font=\fs{7}}]
\node at (50,60) {30mm}; \node at (42.5,110) {0}; \node at (52,127) {-10mm};
\node at (50,148) {30mm}; \node at (42.5,200) {0}; \node at (52,215) {-10mm};
\node at (50,234) {30mm}; \node at (42.5,284) {0}; \node at (52,302) {-10mm};
\node at (50,317) {30mm}; \node at (42.5,368) {0}; \node at (52,385) {-10mm};
\node at (93,136) {6/1}; \node at (252,136) {6/10}; \node at (421,136) {6/20}; \node at (582,136) {6/30};
\node at (93,461) {6/1}; \node at (252,461) {6/10}; \node at (421,461) {6/20}; \node at (582,461) {6/30};
\node at (617.5,53) {10mm}; \node at (630,70) {0}; \node at (619,119) {-20mm};
\node at (617.5,136) {10mm}; \node at (630,152) {0}; \node at (619,185) {-20mm};
\node at (621,214) {5mm}; \node at (630,230) {0}; \node at (619,264) {-20mm};
\node at (621,281) {5mm}; \node at (630,297) {0}; \node at (619,330) {-20mm};
\end{scope}
\node[inner sep=0pt, font=\fs{6}] at (57.5,404) {8m/s};
\node[inner sep=0pt, font=\fs{7.8}] at (48.5,422) {wind Speed};
\node[inner sep=0pt, font=\fs{7}] at (58,453) {0};
\begin{scope}[every node/.style={inner sep=0pt, font=\fs{7.5}}]
\node at (655,347) {7/1}; \node at (826,347) {7/10}; \node at (1003,347) {7/20}; \node at (1178,347) {7/30};
\node at (524,414) {13m}; \node at (535,459) {1.5m};
\end{scope}
\begin{scope}[every node/.style={inner sep=0pt, font=\fs{10.5}}]
\node at (310,83) {5th Story}; \node at (310,160) {4th Story}; \node at (309,260) {3rd story}; \node at (311,335) {2nd story};
\node at (361,409) {wind speed};
\node at (705,65) {5th Story}; \node at (705,140) {4th Story}; \node at (702,262) {3rd story}; \node at (705,310) {2nd story};
\end{scope}
\begin{scope}[every node/.style={inner sep=0pt, font=\fs{10}}]
\node at (517,95) {Y}; \node at (517,120) {X};
\node at (517,195) {Y}; \node at (517,220) {X};
\node at (517,272) {Y}; \node at (517,297) {X};
\node at (517,347) {Y}; \node at (517,372) {X};
\end{scope}
\begin{scope}[every node/.style={inner sep=0pt, font=\fs{9}}]
\node at (956,76) {Y}; \node at (956,94) {X};
\node at (956,151) {Y}; \node at (956,168) {X};
\node at (956,224) {Y}; \node at (956,263) {X};
\node at (956,281) {Y}; \node at (956,317) {X};
\end{scope}
\begin{scope}[every node/.style={inner sep=0pt, font=\fs{5.5}}]
\node at (632,367) {9mm}; \node at (622,384) {Wind speed}; \node at (630,403) {0};
\end{scope}
\node[inner sep=0pt, font=\fs{6.5}] at (617,436) {WDIR};
\begin{scope}[every node/.style={inner sep=0pt, font=\fs{3.5}}]
\node at (636,420) {N}; \node at (642,427) {W}; \node at (635,439) {S}; \node at (636,447) {E}; \node at (636,457) {N};
\end{scope}
\end{scope}
\pgfresetboundingbox
\useasboundingbox (0,0) rectangle (599.5pt,-231.5pt);
\end{tikzpicture}
\end{document}
